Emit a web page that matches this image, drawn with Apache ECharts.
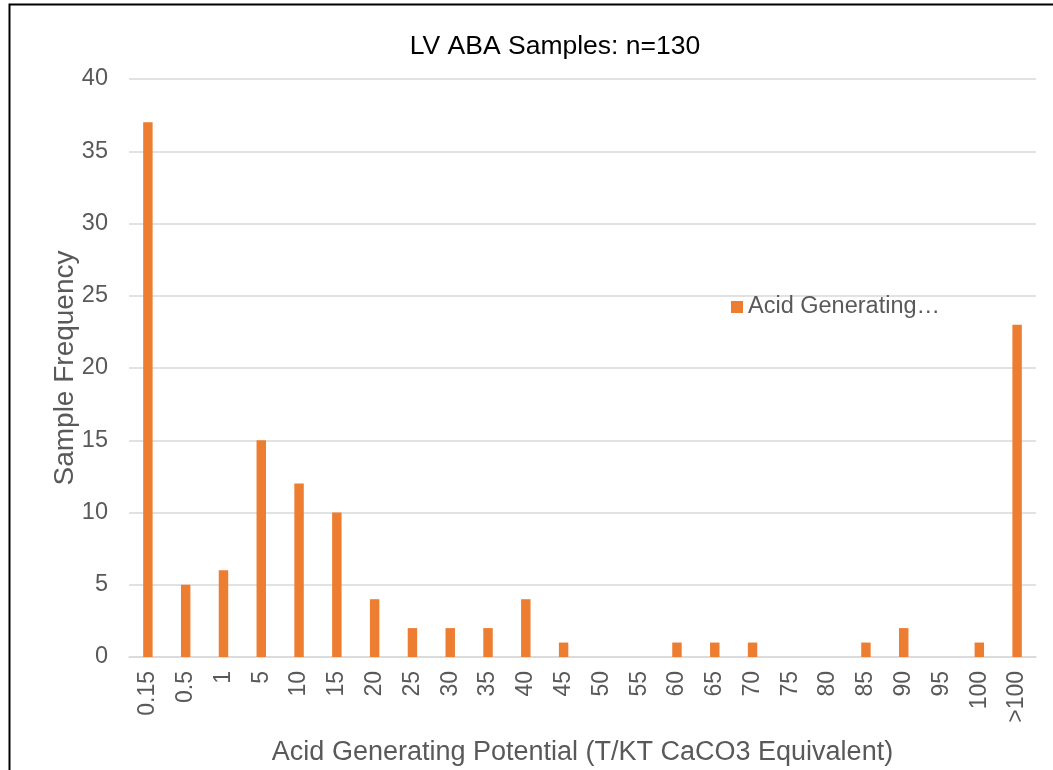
<!DOCTYPE html>
<html>
<head>
<meta charset="utf-8">
<script src="https://cdn.jsdelivr.net/npm/echarts@6/dist/echarts.min.js"></script>
<style>
html,body{margin:0;padding:0;background:#fff;}
#chart{width:1053px;height:770px;}
</style>
</head>
<body>
<div id="chart"></div>
<script>
const categories = ['0.15','0.5','1','5','10','15','20','25','30','35','40','45','50','55','60','65','70','75','80','85','90','95','100','>100'];
const frequencies = [37,5,6,15,12,10,4,2,2,2,4,1,0,0,1,1,1,0,0,1,2,0,1,23];
const yTicks = {min:0, max:40, interval:5};
const seriesName = 'Acid Generating Potential';
const titleText = 'LV ABA Samples: n=130';
const xName = 'Acid Generating Potential (T/KT CaCO3 Equivalent)';
const yName = 'Sample Frequency';

const chart = echarts.init(document.getElementById('chart'));
const FONT = 'Liberation Sans, Arial, sans-serif';
chart.setOption({
  animation:false,
  title:{text:titleText,left:550,textAlign:'center',top:28,
    textStyle:{fontFamily:FONT,fontSize:26.5,fontWeight:'normal',color:'#000'}},
  graphic:[{type:'rect',shape:{x:9.5,y:4.5,width:1100,height:800},
    style:{fill:'none',stroke:'#000',lineWidth:2},silent:true}],
  legend:{left:726,top:290,itemWidth:12,itemHeight:12,itemGap:5,
    icon:'rect',formatter:()=> 'Acid Generating…',
    textStyle:{fontFamily:FONT,fontSize:23.5,color:'#595959'}},
  grid:{left:129,right:17,top:79,bottom:113,outerBoundsMode:'none',containLabel:false},
  xAxis:{type:'category',data:categories,
    name:xName,nameLocation:'middle',nameGap:82,nameMoveOverlap:false,
    nameTextStyle:{fontFamily:FONT,fontSize:27,color:'#595959'},
    axisLine:{lineStyle:{color:'#D9D9D9',width:1.5}},
    axisTick:{show:false},
    axisLabel:{rotate:90,margin:14,fontFamily:FONT,fontSize:23,color:'#595959'}},
  yAxis:{type:'value',min:yTicks.min,max:yTicks.max,interval:yTicks.interval,
    name:yName,nameLocation:'middle',nameGap:50,nameMoveOverlap:false,
    nameTextStyle:{fontFamily:FONT,fontSize:28,color:'#595959'},
    axisLine:{show:false},axisTick:{show:false},
    splitLine:{lineStyle:{color:'#D9D9D9',width:1.5}},
    axisLabel:{margin:21,fontFamily:FONT,fontSize:23.5,color:'#595959'}},
  series:[{type:'bar',name:seriesName,data:frequencies,barWidth:'25%',
    itemStyle:{color:'#ED7D31'}}]
});
</script>
</body>
</html>
